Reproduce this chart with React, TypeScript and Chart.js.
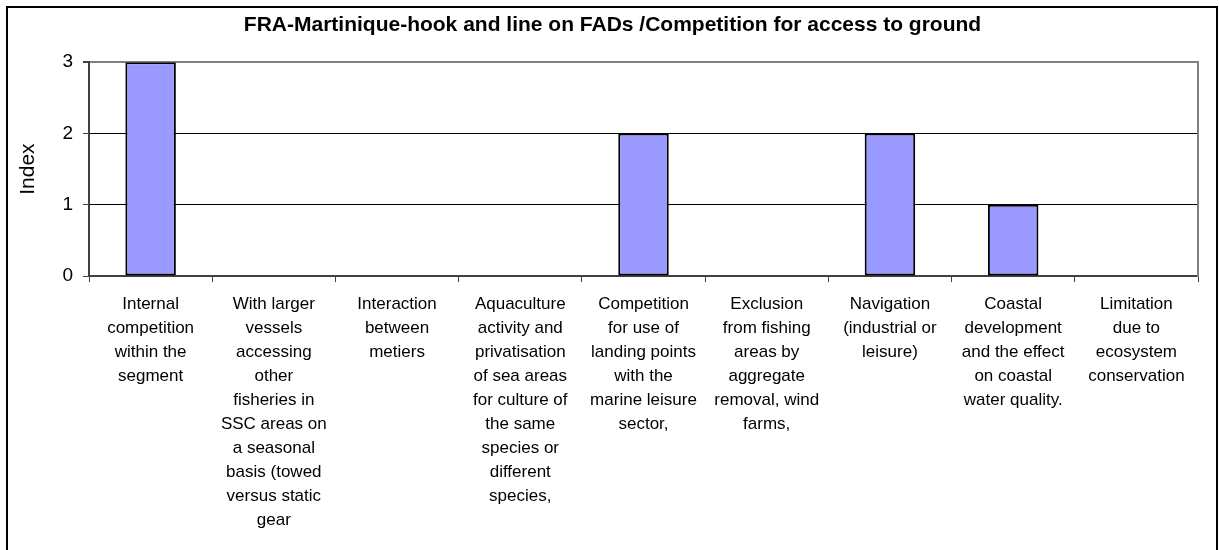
import React, { useEffect, useRef } from "react";
import { Chart, registerables } from "chart.js";

Chart.register(...registerables);

const TITLE = "FRA-Martinique-hook and line on FADs /Competition for access to ground";
const Y_TITLE = "Index";

const categories: string[][] = [
  ["Internal", "competition", "within the", "segment"],
  ["With larger", "vessels", "accessing", "other", "fisheries in", "SSC areas on", "a seasonal", "basis (towed", "versus static", "gear"],
  ["Interaction", "between", "metiers"],
  ["Aquaculture", "activity and", "privatisation", "of sea areas", "for culture of", "the same", "species or", "different", "species,"],
  ["Competition", "for use of", "landing points", "with the", "marine leisure", "sector,"],
  ["Exclusion", "from fishing", "areas by", "aggregate", "removal, wind", "farms,"],
  ["Navigation", "(industrial or", "leisure)"],
  ["Coastal", "development", "and the effect", "on coastal", "water quality."],
  ["Limitation", "due to", "ecosystem", "conservation"],
];

const values: number[] = [3, 0, 0, 0, 2, 0, 2, 1, 0];

const yTicks: number[] = [0, 1, 2, 3];

const FONT = "Arial, 'Liberation Sans', sans-serif";

const framePlugin = {
  id: "outerFrame",
  beforeDraw(chart: any) {
    const ctx = chart.ctx;
    ctx.save();
    ctx.fillStyle = "#ffffff";
    ctx.fillRect(0, 0, chart.width, chart.height);
    ctx.strokeStyle = "#000000";
    ctx.lineWidth = 2;
    ctx.strokeRect(7, 7, 1210, 600);
    ctx.restore();
  },
};

export default function App() {
  const canvasRef = useRef<HTMLCanvasElement | null>(null);

  useEffect(() => {
    if (!canvasRef.current) return;
    const chart = new Chart(canvasRef.current, {
      type: "bar",
      data: {
        labels: categories,
        datasets: [
          {
            data: values,
            backgroundColor: "#9999FF",
            borderColor: "#000000",
            borderWidth: 2,
            borderSkipped: false,
            barPercentage: 0.41,
            categoryPercentage: 1,
          },
        ],
      },
      options: {
        responsive: false,
        animation: false,
        layout: { padding: { left: 8, right: 2, top: 0, bottom: 0 } },
        plugins: {
          legend: { display: false },
          tooltip: { enabled: false },
          title: {
            display: true,
            text: TITLE,
            color: "#000000",
            font: { family: FONT, size: 21, weight: "bold" },
            padding: { top: 13, bottom: 24 },
          },
        },
        scales: {
          x: {
            offset: true,
            grid: {
              display: true,
              drawOnChartArea: false,
              drawTicks: true,
              tickLength: 6,
              tickColor: "#404040",
              offset: true,
            },
            border: { display: true, color: "#404040", width: 2 },
            ticks: {
              autoSkip: false,
              maxRotation: 0,
              minRotation: 0,
              color: "#000000",
              padding: 10,
              font: { family: FONT, size: 17, lineHeight: "24px" },
            },
            afterFit(scale: any) {
              scale.height = 274;
            },
          },
          y: {
            min: 0,
            max: 3,
            afterBuildTicks(scale: any) {
              scale.ticks = yTicks.map((v) => ({ value: v }));
            },
            grid: {
              color: (ctx: any) => (ctx.tick && ctx.tick.value === 3 ? "#808080" : "#000000"),
              lineWidth: (ctx: any) => (ctx.tick && ctx.tick.value === 3 ? 2 : 1),
              tickLength: 6,
              tickColor: "#404040",
            },
            border: { display: true, color: "#404040", width: 2 },
            ticks: {
              color: "#000000",
              padding: 10,
              font: { family: FONT, size: 19 },
            },
            title: {
              display: true,
              text: Y_TITLE,
              color: "#000000",
              font: { family: FONT, size: 21 },
              padding: { top: 8, bottom: 0 },
            },
            afterFit(scale: any) {
              scale.width = 81;
            },
          },
          y2: {
            type: "linear",
            position: "right",
            min: 0,
            max: 3,
            grid: { drawOnChartArea: false, drawTicks: false },
            ticks: { display: false },
            border: { display: true, color: "#808080", width: 2 },
            afterFit(scale: any) {
              scale.width = 19;
            },
          },
        },
      },
      plugins: [framePlugin],
    } as any);
    return () => chart.destroy();
  }, []);

  return (
    <div style={{ position: "absolute", left: 0, top: 0, width: 1219, height: 550 }}>
      <canvas ref={canvasRef} width={1219} height={550} style={{ display: "block" }} />
    </div>
  );
}
